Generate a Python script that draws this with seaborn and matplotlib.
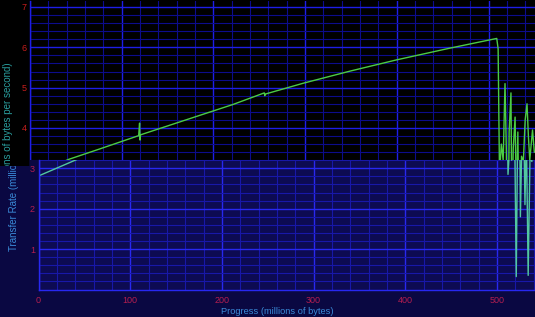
import matplotlib
matplotlib.use("Agg")
import matplotlib.pyplot as plt
from matplotlib.patches import Polygon
from matplotlib.ticker import MultipleLocator, FixedLocator
from matplotlib.transforms import Bbox, TransformedBbox
import seaborn as sns
import pandas as pd

# ---- data (millions of bytes, millions of bytes per second) ----
progress = [0.5, 1.0, 42, 76, 118.5, 119.5, 120.0, 120.5, 178, 221, 255.5, 256.0, 256.5,
            258, 298, 349, 400, 458, 509, 510.5, 512, 514, 516, 518, 519.5, 521, 522.5,
            524.5, 525.5, 527, 529, 530.5, 532, 534, 536, 538, 540, 542, 543.5, 545,
            548, 550]
rate = [0.3, 2.82, 3.22, 3.48, 3.81, 4.12, 3.70, 3.83, 4.26, 4.58, 4.87, 4.80, 4.84,
        4.85, 5.11, 5.41, 5.69, 5.98, 6.22, 5.96, 2.85, 3.6, 3.2, 5.1, 3.4, 0.32, 3.9,
        4.87, 1.8, 3.5, 4.27, 2.1, 3.9, 0.35, 3.3, 3.17, 4.2, 4.6, 3.8, 3.2,
        3.95, 3.4]
x_ticks = [0, 100, 200, 300, 400, 500]
y_ticks_upper = [1, 2, 3, 4, 5, 6, 7]
y_ticks_lower = [1, 2, 3]
x_label = "Progress (millions of bytes)"
y_label = "Transfer Rate (millions of bytes per second)"

df = pd.DataFrame({"progress": progress, "rate": rate})

W, H = 535, 317
plt.rcParams["font.family"] = ["Liberation Sans", "DejaVu Sans"]
fig = plt.figure(figsize=(W / 100, H / 100), dpi=100, facecolor="black")


def box(l, t, r, b):
    return [l / W, 1 - b / H, (r - l) / W, (b - t) / H]


def style_axes(ax, major_c, minor_c, spine_c, tick_c, yt, show_x):
    ax.xaxis.set_major_locator(FixedLocator(x_ticks))
    ax.xaxis.set_minor_locator(MultipleLocator(20))
    ax.yaxis.set_major_locator(FixedLocator(yt))
    ax.yaxis.set_minor_locator(MultipleLocator(0.2))
    ax.grid(which="minor", color=minor_c, lw=0.8, zorder=0)
    ax.grid(which="major", color=major_c, lw=1.0, zorder=0)
    ax.set_axisbelow(True)
    ax.tick_params(which="both", length=0)
    ax.tick_params(axis="y", colors=tick_c, labelsize=6.5, pad=2.5)
    ax.tick_params(axis="x", colors=tick_c, labelsize=6.5, pad=5,
                   labelbottom=show_x)
    for s in ["top", "right"]:
        ax.spines[s].set_visible(False)
    for s in ["left", "bottom"]:
        ax.spines[s].set_color(spine_c)
        ax.spines[s].set_linewidth(1.0)
    ax.set_xlabel("")
    ax.set_ylabel("")


# ---- upper (background) chart ----
ax_up = fig.add_axes(box(30, 1, 535, 289.3))
ax_up.set_facecolor("black")
sns.lineplot(data=df, x="progress", y="rate", ax=ax_up, color="#4ccc44", lw=1.0,
             estimator=None, sort=False)
ax_up.set_xlim(0, 505 / 0.917)
ax_up.set_ylim(0, 288.3 / 40.33)
style_axes(ax_up, "#1e1ee6", "#0c0c8c", "#1e1ee6", "#c81e1e", y_ticks_upper, False)
t_up = ax_up.text(8 / W, 1 - 157 / H, y_label, transform=fig.transFigure, rotation=90,
                  ha="center", va="center", fontsize=7, color="#2a9e9e")
t_up.set_clip_box(TransformedBbox(Bbox.from_extents(0, (H - 166) / H, 1, 1),
                                  fig.transFigure))
t_up.set_clip_on(True)

# ---- overlay backdrop ----
ax_bg = fig.add_axes([0, 0, 1, 1])
ax_bg.axis("off")
ax_bg.set_xlim(0, W)
ax_bg.set_ylim(H, 0)
ax_bg.add_patch(Polygon([(0, H), (W, H), (W, 160), (30, 160), (30, 166), (0, 166)],
                        closed=True, facecolor="#0a0842", edgecolor="none"))

# ---- lower (overlay) chart ----
ax_low = fig.add_axes(box(38.5, 160, 535, 289.5))
ax_low.set_facecolor("#0d0b52")
sns.lineplot(data=df, x="progress", y="rate", ax=ax_low, color="#52c8a0", lw=1.0,
             estimator=None, sort=False)
ax_low.set_xlim(0, 496.5 / 0.917)
ax_low.set_ylim(0, 129.5 / 40.4)
style_axes(ax_low, "#2828f0", "#1818a8", "#2828f0", "#b41e50", y_ticks_lower, True)
ax_low.text(277 / W, 1 - 311 / H, x_label, transform=fig.transFigure,
            ha="center", va="center", fontsize=6.7, color="#3a8ad8")
t_low = ax_low.text(14 / W, 1 - 157 / H, y_label, transform=fig.transFigure,
                    rotation=90, ha="center", va="center", fontsize=7,
                    color="#3a8ad8")
t_low.set_clip_box(TransformedBbox(Bbox.from_extents(0, 0, 1, (H - 166) / H),
                                   fig.transFigure))
t_low.set_clip_on(True)

fig.savefig("out.png", dpi=100, facecolor=fig.get_facecolor())
